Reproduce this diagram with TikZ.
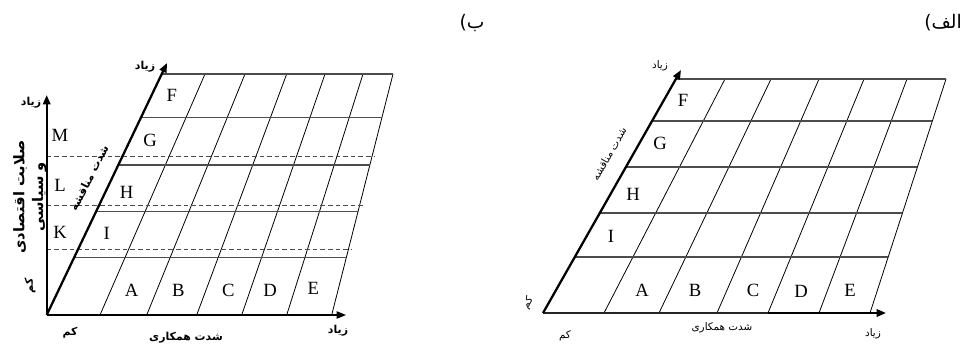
\documentclass[tikz,border=0pt]{standalone}
\usepackage{fontspec}
\setmainfont{Liberation Serif}
\newfontfamily\fa[Script=Arabic]{DejaVu Sans}
\TeXXeTstate=1
\usetikzlibrary{arrows.meta,calc}
\begin{document}
\begin{tikzpicture}[x=0.75pt,y=-0.75pt,
  axisline/.style={line width=1.7pt,-{Triangle[length=7pt,width=5.5pt]}},
  thickline/.style={line width=1.7pt},
  hline/.style={line width=0.9pt,draw=black!70},
  sline/.style={line width=0.6pt,draw=black},
  dline/.style={line width=0.8pt,draw=black!70,dash pattern=on 3.5pt off 2.2pt},
  lett/.style={font=\fontsize{14}{14}\selectfont,inner sep=0pt},
  fatext/.style={font=\fa\fontsize{7.8}{9}\selectfont,inner sep=0pt},
  fabold/.style={font=\fa\bfseries\fontsize{8.2}{9.5}\selectfont,inner sep=0pt,align=center},
  title/.style={font=\fa\fontsize{14}{16}\selectfont,inner sep=0pt,anchor=base},
]
\useasboundingbox (0,0) rectangle (974,349);

% ---------- titles ----------
\node[title] (tA) at (943,29) {\beginR الف)\endR};
\node[title] (tB) at (472,29) {\beginR ب)\endR};

% ================= right diagram (alef) =================
\coordinate (rO) at (543,313);
\coordinate (rTip) at (681,70);
\coordinate (rX) at (886,313);
\foreach \i/\t/\b in {0/676/543,1/725/604,2/771/659,3/819/717,4/864/768,5/907/819,6/946/870}{
  \coordinate (rT\i) at (\t,79);
  \coordinate (rB\i) at (\b,313);
}
\foreach \i in {1,...,6} \draw[sline] (rB\i) -- (rT\i);
\foreach \t in {0.2393,0.4274,0.6239,0.8205}
  \draw[hline] ($(rB0)!\t!(rT0)$) -- ($(rB6)!\t!(rT6)$);
\draw[hline] (rT0) -- (rT6);
\draw[hline,draw=black!85] (rO) -- (rB4);
\draw[axisline] (rB4) -- (rX);
\draw[axisline] (rO) -- (rTip);

\node[lett] (rF) at (683,100) {F};
\node[lett] (rG) at (660,143) {G};
\node[lett] (rH) at (633,194) {H};
\node[lett] (rI) at (611,236) {I};
\node[lett] (rA) at (642,290) {A};
\node[lett] (rBl) at (695,290) {B};
\node[lett] (rC) at (753,290) {C};
\node[lett] (rD) at (801,291) {D};
\node[lett] (rE) at (850,290) {E};

\node[fatext] (rzt) at (660,66) {\beginR زیاد\endR};
\node[fatext,rotate=60] (rmon) at (609,154) {\beginR شدت مناقشه\endR};
\node[fatext,rotate=60] (rkm1) at (528,303) {\beginR کم\endR};
\node[fatext] (rkm2) at (565,336) {\beginR کم\endR};
\node[fatext] (rham) at (722,328) {\beginR شدت همکاری\endR};
\node[fatext] (rzb) at (873,334) {\beginR زیاد\endR};

% ================= left diagram (be) =================
\coordinate (lO) at (46.7,315);
\coordinate (lTip) at (167,63);
\coordinate (lV) at (46.7,95);
\coordinate (lM) at (213,315);
\coordinate (lX) at (346,315);
\foreach \i/\t/\b in {0/161.7/46.7,1/205/100,2/245/146.7,3/286.7/196.7,4/325/241.7,5/363/286.7,6/393/331.7}{
  \coordinate (lT\i) at (\t,74);
  \coordinate (lB\i) at (\b,315);
}
\foreach \i in {1,...,6} \draw[sline] (lB\i) -- (lT\i);
\foreach \t in {0.2394,0.4286,0.6224,0.8203}
  \draw[hline] ($(lB0)!\t!(lT0)$) -- ($(lB6)!\t!(lT6)$);
\foreach \t in {0.270,0.455,0.657}{
  \path ($(lB6)!\t!(lT6)$) coordinate (dEnd);
  \draw[dline] (lO|-dEnd) -- ([xshift=2.25pt]dEnd);
}
\draw[hline] (lT0) -- (lT6);
\draw[thickline] (lO) -- (lM);
\draw[line width=0.9pt,-{Triangle[length=7pt,width=5.5pt]}] (lM) -- (lX);
\draw[axisline] (lO) -- (lTip);
\draw[axisline] (lO) -- (lV);

\node[lett] (lF) at (171.7,95) {F};
\node[lett] (lG) at (150,140) {G};
\node[lett] (lH) at (126.7,192) {H};
\node[lett] (lI) at (106.7,233) {I};
\node[lett] (lA) at (131.7,290) {A};
\node[lett] (lBl) at (178.3,290) {B};
\node[lett] (lC) at (228.3,290) {C};
\node[lett] (lD) at (270,290) {D};
\node[lett] (lE) at (313.3,288) {E};
\node[lett] (lMl) at (60,135) {M};
\node[lett] (lL) at (60,185) {L};
\node[lett] (lK) at (60,232) {K};

\node[fabold] (lzt) at (145,67) {\beginR زیاد\endR};
\node[fabold] (lzv) at (31,103) {\beginR زیاد\endR};
\node[fabold,rotate=63] (lmon) at (89,178) {\beginR شدت مناقشه\endR};
\node[fabold,rotate=90,font=\fa\bfseries\fontsize{11}{14}\selectfont] (lsal) at (30,197)
  {\beginR صلابت اقتصادی\endR\\\beginR و سیاسی\endR};
\node[fabold,rotate=90] (lkm1) at (30,286) {\beginR کم\endR};
\node[fabold] (lkm2) at (70,333) {\beginR کم\endR};
\node[fabold] (lham) at (186,338) {\beginR شدت همکاری\endR};
\node[fabold] (lzb) at (338,331) {\beginR زیاد\endR};
\end{tikzpicture}
\end{document}
